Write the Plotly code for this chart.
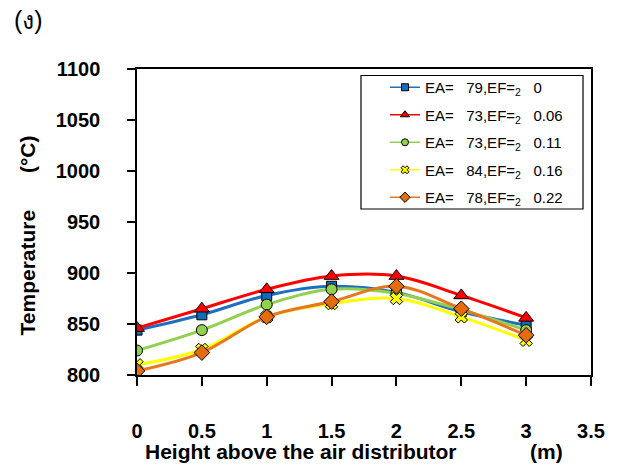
import plotly.graph_objects as go

# Height above the air distributor (m)
heights = [0, 0.5, 1, 1.5, 2, 2.5, 3]

# Bed temperature profiles (°C)
temp_ef000 = [844, 859, 878, 887, 881, 862, 849]
temp_ef006 = [846, 865, 884, 897, 897, 878, 856]
temp_ef011 = [824, 844, 869, 884, 880, 864, 844]
temp_ef016 = [810, 825, 857, 870, 875, 857, 834]
temp_ef022 = [804, 822, 857, 872, 887, 865, 839]

NB = "\u00a0"
series_names = [
    f"EA={NB*3}79,EF=<sub>2</sub>{NB*3}0",
    f"EA={NB*3}73,EF=<sub>2</sub>{NB*3}0.06",
    f"EA={NB*3}73,EF=<sub>2</sub>{NB*3}0.11",
    f"EA={NB*3}84,EF=<sub>2</sub>{NB*3}0.16",
    f"EA={NB*3}78,EF=<sub>2</sub>{NB*3}0.22",
]

x_ticks = [0, 0.5, 1, 1.5, 2, 2.5, 3, 3.5]
y_ticks = [800, 850, 900, 950, 1000, 1050, 1100]

FONT = "Arial, Liberation Sans, sans-serif"

styles = [
    dict(line="#1F6FC0", fill="#0F6DBF", symbol="square", size=10, lsize=7),
    dict(line="#FF0000", fill="#FF0000", symbol="triangle-up", size=13, lsize=8),
    dict(line="#92D050", fill="#92D050", symbol="circle", size=11, lsize=7),
    dict(line="#FFFF00", fill="#FFFF00", symbol="x", size=11, lsize=7),
    dict(line="#E8761E", fill="#E46C0A", symbol="diamond", size=12, lsize=8),
]

fig = go.Figure()
all_temps = [temp_ef000, temp_ef006, temp_ef011, temp_ef016, temp_ef022]
for i, (name, temps, st) in enumerate(zip(series_names, all_temps, styles)):
    fig.add_trace(go.Scatter(
        x=heights, y=temps, name=name, mode="lines+markers", showlegend=False,
        legendgroup=f"g{i}",
        line=dict(color=st["line"], width=3, shape="spline", smoothing=1),
        marker=dict(symbol=st["symbol"], size=st["size"], color=st["fill"],
                    line=dict(color="black", width=1)),
    ))
# legend keys drawn with thinner lines and smaller symbols
for i, (name, st) in enumerate(zip(series_names, styles)):
    fig.add_trace(go.Scatter(
        x=[None], y=[None], name=name, mode="lines+markers",
        legendgroup=f"g{i}",
        line=dict(color=st["line"], width=1.5),
        marker=dict(symbol=st["symbol"], size=st["lsize"], color=st["fill"],
                    line=dict(color="black", width=1)),
    ))

fig.update_layout(
    width=622, height=470,
    margin=dict(l=137, r=31, t=69, b=95),
    paper_bgcolor="white", plot_bgcolor="white",
    font=dict(family=FONT, color="black"),
    showlegend=True,
    legend=dict(
        x=(385 - 137) / 454, y=(375 - 71) / 306, xanchor="left", yanchor="top",
        bgcolor="rgba(0,0,0,0)", borderwidth=0,
        tracegroupgap=5,
        font=dict(family=FONT, size=15, color="black"),
    ),
    xaxis=dict(
        range=[0, 3.5], tickvals=x_ticks, ticktext=[f"{v:g}" for v in x_ticks],
        showgrid=False, zeroline=False,
        showline=True, linecolor="black", linewidth=1.5, mirror=True,
        ticks="outside", ticklen=9, tickwidth=1.5, tickcolor="black",
        ticklabelstandoff=28,
        tickfont=dict(family=FONT, size=20, color="black", weight="bold"),
    ),
    yaxis=dict(
        range=[800, 1100], tickvals=y_ticks,
        showgrid=False, zeroline=False,
        showline=True, linecolor="black", linewidth=1.5, mirror=True,
        ticks="outside", ticklen=8, tickwidth=1.5, tickcolor="black",
        ticklabelstandoff=23,
        tickfont=dict(family=FONT, size=20, color="black", weight="bold"),
    ),
    shapes=[dict(
        type="rect", xref="paper", yref="paper",
        x0=(361 - 137) / 454, x1=(583 - 137) / 454,
        y0=(375 - 209) / 306, y1=(375 - 75.5) / 306,
        line=dict(color="black", width=1.2), fillcolor="white", layer="above",
    )],
)

title_font = dict(family=FONT, size=21, color="black", weight="bold")
annotations = [
    dict(text="Height above the air distributor", x=0.3612, y=(375 - 451) / 306,
         xanchor="center", yanchor="middle", font=title_font),
    dict(text="(m)", x=0.9009, y=(375 - 451) / 306, xanchor="center", yanchor="middle",
         font=title_font),
    dict(text="Temperature", x=-0.2423, y=0.335, textangle=-90,
         xanchor="center", yanchor="middle", font=title_font),
    dict(text="(°C)", x=-0.2423, y=0.722, textangle=-90,
         xanchor="center", yanchor="middle", font=title_font),
    dict(text="(ง)", x=(28 - 137) / 454, y=(375 - 20) / 306,
         xanchor="center", yanchor="middle",
         font=dict(family=FONT, size=25, color="black")),
]
for a in annotations:
    a.update(xref="paper", yref="paper", showarrow=False)
fig.update_layout(annotations=annotations)

fig.write_html("out.html")
